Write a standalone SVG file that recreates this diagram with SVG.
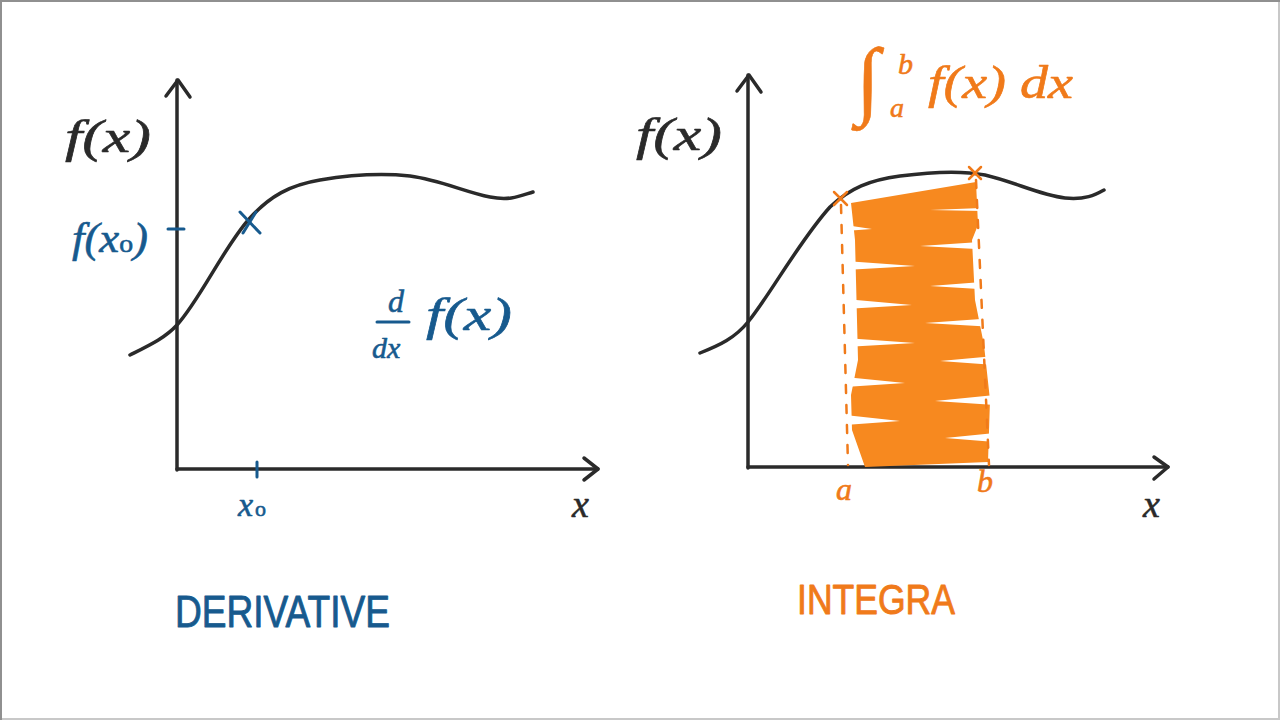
<svg xmlns="http://www.w3.org/2000/svg" width="1280" height="720" viewBox="0 0 1280 720">
<style>
.ax{fill:none;stroke:#2a2a2a;stroke-width:3.5;stroke-linecap:round;stroke-linejoin:round}
.crv{fill:none;stroke:#2a2a2a;stroke-width:3.5;stroke-linecap:round}
.bl{fill:none;stroke:#175a8e;stroke-width:3;stroke-linecap:round}
.or{fill:none;stroke:#f07a1a;stroke-width:2.5;stroke-linecap:round}
.math{font-family:"Liberation Serif",serif;font-style:italic;stroke-width:0.6;stroke-linejoin:round}
.k{fill:#2a2a2a;stroke:#2a2a2a}
.b{fill:#175a8e;stroke:#175a8e}
.o{fill:#f07a1a;stroke:#f07a1a}
.cap{font-family:"Liberation Sans",sans-serif;stroke-width:0.9;stroke-linejoin:round}
.w{fill:#ffffff}
</style>
<rect x="0" y="0" width="1280" height="720" fill="#ffffff"/>
<rect x="1" y="1" width="1278" height="718" fill="none" stroke="#c8c8c8" stroke-width="2"/>
<line x1="1" y1="0" x2="1" y2="720" stroke="#909090" stroke-width="2"/>
<line x1="0" y1="1" x2="1280" y2="1" stroke="#909090" stroke-width="2"/>

<g id="connectors">
<line class="ax" x1="177" y1="80" x2="177" y2="470"/>
<polyline class="ax" points="166,96 178,80 190,97"/>
<line class="ax" x1="177" y1="469" x2="598" y2="469"/>
<polyline class="ax" points="584,458 598,469 584,480"/>
<line class="ax" x1="748" y1="75" x2="748" y2="468"/>
<polyline class="ax" points="737,91 749,75 761,92"/>
<line class="ax" x1="748" y1="467" x2="1168" y2="467"/>
<polyline class="ax" points="1154,457 1168,467 1154,479"/>
</g>

<g id="left-curve">
<path class="crv" d="M130,355 C150,345 165,338 177,325 C200,300 225,245 250,218 C270,196 290,185 320,180 C350,175 380,173 410,176 C440,180 465,192 490,197 C510,201 520,196 533,192"/>
</g>

<g id="left-marks">
<line class="bl" x1="168" y1="229" x2="184" y2="229"/>
<line class="bl" x1="240" y1="212" x2="260" y2="233"/>
<line class="bl" x1="256" y1="212" x2="243" y2="233"/>
<line class="bl" x1="257" y1="462" x2="257" y2="477"/>
</g>

<g id="left-labels">
<text class="math k" x="65" y="152" font-size="46" textLength="86" lengthAdjust="spacingAndGlyphs">f(x)</text>
<text class="math b" x="72" y="252" font-size="42" textLength="76" lengthAdjust="spacingAndGlyphs">f(x<tspan font-size="26" font-style="normal">o</tspan>)</text>
<text class="math b" x="238" y="516" font-size="34">x<tspan font-size="22" font-style="normal" dx="2">o</tspan></text>
<text class="math k" x="572" y="517" font-size="38">x</text>
<text class="math b" x="388" y="312" font-size="32">d</text>
<line class="bl" x1="377" y1="322" x2="409" y2="322"/>
<text class="math b" x="372" y="358" font-size="30">dx</text>
<text class="math b" x="426" y="330" font-size="46" textLength="86" lengthAdjust="spacingAndGlyphs">f(x)</text>
<text class="cap b" x="175" y="627" font-size="44" textLength="215" lengthAdjust="spacingAndGlyphs">DERIVATIVE</text>
</g>

<g id="area">
<path fill="#f7891f" d="M851,203 L976,182 L978,225 L972,240 L975,300 L984,345 L990,400 L988,462 L865,467 L852,430 L851,395 L858,360 L857,320 L856,280 L855,240 Z"/>
<polygon class="w" points="982,208 982,211 930,210"/>
<polygon class="w" points="995,241 995,250 920,246"/>
<polygon class="w" points="995,281 995,290 930,286"/>
<polygon class="w" points="995,318 995,327 925,323"/>
<polygon class="w" points="995,356 995,365 940,361"/>
<polygon class="w" points="995,395 995,405 935,401"/>
<polygon class="w" points="995,433 995,442 945,438"/>
<polygon class="w" points="845,225 845,231 872,229"/>
<polygon class="w" points="845,261 845,270 915,266"/>
<polygon class="w" points="845,299 845,309 912,305"/>
<polygon class="w" points="845,338 845,347 915,343"/>
<polygon class="w" points="845,377 845,387 905,383"/>
<polygon class="w" points="845,415 845,425 900,421"/>
<line class="or" x1="841" y1="205" x2="848" y2="465" stroke-dasharray="8 12" stroke-width="2"/>
<line class="or" x1="976" y1="180" x2="989" y2="465" stroke-dasharray="8 12" stroke-width="2"/>
</g>

<g id="right-curve">
<path class="crv" d="M700,353 C720,345 735,338 748,322 C770,295 800,240 830,207 C850,188 870,180 900,176 C930,172 960,170 985,175 C1015,182 1040,195 1065,198 C1085,200 1095,195 1104,190"/>
</g>

<g id="right-marks">
<line class="or" x1="834" y1="192" x2="847" y2="205"/>
<line class="or" x1="847" y1="192" x2="834" y2="205"/>
<line class="or" x1="969" y1="167" x2="981" y2="179"/>
<line class="or" x1="981" y1="167" x2="969" y2="179"/>
</g>

<g id="right-labels">
<text class="math k" x="636" y="150" font-size="46" textLength="86" lengthAdjust="spacingAndGlyphs">f(x)</text>
<text class="math k" x="1143" y="517" font-size="38">x</text>
<text class="math o" x="836" y="500" font-size="32">a</text>
<text class="math o" x="977" y="492" font-size="32">b</text>
<text class="math o" x="856" y="108" font-size="86">∫</text>
<text class="math o" x="898" y="74" font-size="30">b</text>
<text class="math o" x="890" y="117" font-size="28">a</text>
<text class="math o" x="928" y="98" font-size="46" textLength="145" lengthAdjust="spacingAndGlyphs">f(x) dx</text>
<text class="cap o" x="797" y="614" font-size="42" textLength="158" lengthAdjust="spacingAndGlyphs">INTEGRA</text>
</g>
</svg>
